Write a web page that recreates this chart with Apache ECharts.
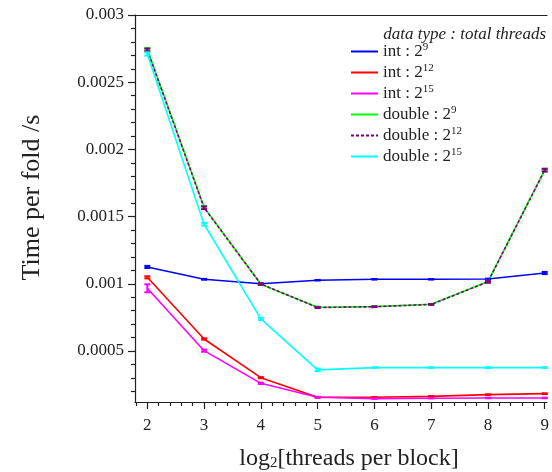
<!DOCTYPE html>
<html>
<head>
<meta charset="utf-8">
<script src="https://cdn.jsdelivr.net/npm/echarts@6.0.0/dist/echarts.min.js"></script>
<style>
  html, body { margin: 0; padding: 0; background: #fff; }
  #chart { width: 552px; height: 472px; }
</style>
</head>
<body>
<div id="chart"></div>
<script>
// log2 of threads per block
const blockSizes = [2, 3, 4, 5, 6, 7, 8, 9];

// time per fold (s)
const intT9 = [0.001125, 0.001033, 0.001000, 0.001026, 0.001033, 0.001033, 0.001035, 0.001080];
const intT12 = [0.001048, 0.000589, 0.000301, 0.000155, 0.000155, 0.000162, 0.000175, 0.000182];
const intT15 = [0.000966, 0.000502, 0.000259, 0.000155, 0.000145, 0.000148, 0.000150, 0.000150];
const dblT9 = [0.002745, 0.001569, 0.000997, 0.000825, 0.000830, 0.000847, 0.001016, 0.001847];
const dblT12 = [0.002740, 0.001565, 0.000998, 0.000823, 0.000829, 0.000846, 0.001014, 0.001845];
const dblT15 = [0.002710, 0.001443, 0.000738, 0.000359, 0.000376, 0.000376, 0.000376, 0.000376];

// error bar half-heights
const intT9Err = [0.000008, 0.000003, 0.000003, 0.000002, 0.000002, 0.000002, 0.000003, 0.000008];
const intT12Err = [0.000008, 0.000005, 0.000004, 0.000003, 0.000002, 0.000002, 0.000002, 0.000003];
const intT15Err = [0.000030, 0.000008, 0.000005, 0.000003, 0.000002, 0.000002, 0.000002, 0.000002];
const dblT9Err = [0.000010, 0.000010, 0.000006, 0.000004, 0.000003, 0.000003, 0.000006, 0.000010];
const dblT12Err = [0.000010, 0.000010, 0.000006, 0.000004, 0.000003, 0.000003, 0.000006, 0.000010];
const dblT15Err = [0.000012, 0.000010, 0.000008, 0.000010, 0.000003, 0.000003, 0.000003, 0.000003];

const xMajor = [2, 3, 4, 5, 6, 7, 8, 9];
const yMajor = [0.0005, 0.001, 0.0015, 0.002, 0.0025, 0.003];

const xMinor = [];
for (let v = 1.8; v < 9.05; v += 0.2) {
  const r = Math.round(v * 10) / 10;
  if (Math.abs(r - Math.round(r)) > 0.01) xMinor.push(r);
}
const yMinor = [];
for (let k = 2; k <= 30; k++) {
  if (k % 5 !== 0) yMinor.push(k / 10000);
}

const FONT = '"Liberation Serif", "DejaVu Serif", serif';
const X_MIN = 1.783, X_MAX = 9.04, Y_MIN = 0.00012, Y_MAX = 0.003;

const lines = [
  { name: 'int : 2^9', data: intT9, err: intT9Err, color: '#0000ff', type: 'solid' },
  { name: 'int : 2^12', data: intT12, err: intT12Err, color: '#ff0000', type: 'solid' },
  { name: 'int : 2^15', data: intT15, err: intT15Err, color: '#ff00ff', type: 'solid' },
  { name: 'double : 2^9', data: dblT9, err: dblT9Err, color: '#00ff00', type: 'solid' },
  { name: 'double : 2^12', data: dblT12, err: dblT12Err, color: '#800080', type: [3, 2] },
  { name: 'double : 2^15', data: dblT15, err: dblT15Err, color: '#00ffff', type: 'solid' }
];

function errorBars(item) {
  return {
    type: 'custom',
    xAxisIndex: 0,
    yAxisIndex: 0,
    z: 3,
    silent: true,
    data: blockSizes.map((x, i) => [x, item.data[i], item.err[i]]),
    renderItem: (params, api) => {
      const x = api.value(0), y = api.value(1), e = api.value(2);
      const top = api.coord([x, y + e]);
      const bot = api.coord([x, y - e]);
      const style = { stroke: item.color, lineWidth: 2 };
      return {
        type: 'group',
        children: [
          { type: 'line', shape: { x1: top[0], y1: top[1], x2: bot[0], y2: bot[1] }, style },
          { type: 'line', shape: { x1: top[0] - 3, y1: top[1], x2: top[0] + 3, y2: top[1] }, style },
          { type: 'line', shape: { x1: bot[0] - 3, y1: bot[1], x2: bot[0] + 3, y2: bot[1] }, style }
        ]
      };
    }
  };
}

const chart = echarts.init(document.getElementById('chart'));

const series = [];
lines.forEach(item => {
  series.push({
    name: item.name,
    type: 'line',
    xAxisIndex: 0,
    yAxisIndex: 0,
    symbol: 'none',
    z: 2,
    data: blockSizes.map((x, i) => [x, item.data[i]]),
    lineStyle: { color: item.color, width: 1.6, type: item.type },
    itemStyle: { color: item.color }
  });
});
lines.forEach(item => series.push(errorBars(item)));

const axisLineStyle = { color: '#222', width: 1.2 };

chart.setOption({
  animation: false,
  backgroundColor: '#fff',
  grid: { left: 135, right: 5, top: 15, bottom: 70, containLabel: false, outerBoundsMode: 'none' },
  title: {
    text: 'data type : total threads',
    right: 1,
    top: 21,
    textStyle: { fontFamily: FONT, fontStyle: 'italic', fontWeight: 'normal', fontSize: 17, color: '#222' }
  },
  legend: {
    orient: 'vertical',
    left: 345,
    top: 37,
    itemWidth: 27,
    itemHeight: 14,
    itemGap: 3,
    itemStyle: { opacity: 0 },
    data: lines.map(l => l.name),
    formatter: name => {
      const parts = name.split('^');
      return '{t|' + parts[0] + '}{s|' + parts[1] + '}';
    },
    textStyle: {
      fontFamily: FONT,
      color: '#222',
      rich: {
        t: { fontFamily: FONT, fontSize: 17, color: '#222' },
        s: { fontFamily: FONT, fontSize: 11, color: '#222', padding: [0, 0, 8, 0] }
      }
    }
  },
  xAxis: [
    {
      type: 'value',
      min: X_MIN,
      max: X_MAX,
      position: 'bottom',
      name: '{t|log}{b|2}{t|[threads per block]}',
      nameLocation: 'middle',
      nameGap: 44,
      nameTextStyle: {
        padding: [0, 0, 0, 16],
        rich: {
          t: { fontFamily: FONT, fontSize: 24, color: '#222' },
          b: { fontFamily: FONT, fontSize: 15, color: '#222', padding: [10, 0, 0, 0] }
        }
      },
      axisLine: { show: true, lineStyle: axisLineStyle },
      axisTick: { show: true, inside: false, length: 7, customValues: xMajor, lineStyle: axisLineStyle },
      axisLabel: { customValues: xMajor, margin: 15, fontFamily: FONT, fontSize: 17, color: '#222' },
      splitLine: { show: false }
    },
    {
      type: 'value',
      min: X_MIN,
      max: X_MAX,
      position: 'bottom',
      axisLine: { show: false },
      axisTick: { show: true, inside: false, length: 4, customValues: xMinor, lineStyle: axisLineStyle },
      axisLabel: { show: false },
      splitLine: { show: false }
    },
    {
      type: 'value',
      min: X_MIN,
      max: X_MAX,
      position: 'top',
      axisLine: { show: true, lineStyle: axisLineStyle },
      axisTick: { show: false },
      axisLabel: { show: false },
      splitLine: { show: false }
    }
  ],
  yAxis: [
    {
      type: 'value',
      min: Y_MIN,
      max: Y_MAX,
      position: 'left',
      name: 'Time per fold /s',
      nameLocation: 'middle',
      nameGap: 90,
      nameTextStyle: { fontFamily: FONT, fontSize: 26, color: '#222', padding: [0, 0, 0, 22] },
      axisLine: { show: true, lineStyle: axisLineStyle },
      axisTick: { show: true, inside: false, length: 7, customValues: yMajor, lineStyle: axisLineStyle },
      axisLabel: {
        customValues: yMajor,
        margin: 11,
        fontFamily: FONT,
        fontSize: 17,
        color: '#222',
        formatter: v => String(+v.toFixed(4))
      },
      splitLine: { show: false }
    },
    {
      type: 'value',
      min: Y_MIN,
      max: Y_MAX,
      position: 'left',
      axisLine: { show: false },
      axisTick: { show: true, inside: false, length: 4, customValues: yMinor, lineStyle: axisLineStyle },
      axisLabel: { show: false },
      splitLine: { show: false }
    }
  ],
  series: series
});
</script>
</body>
</html>
